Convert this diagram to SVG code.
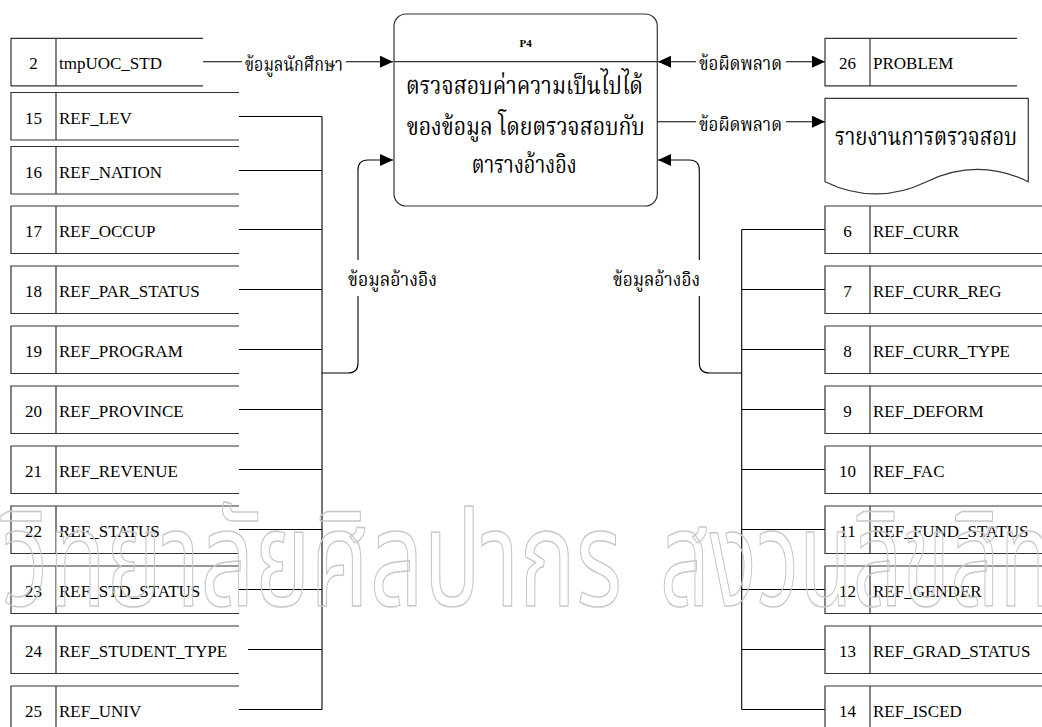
<svg xmlns="http://www.w3.org/2000/svg" width="1042" height="727" viewBox="0 0 1042 727">
<defs>
<marker id="ah" markerUnits="userSpaceOnUse" markerWidth="14" markerHeight="13" refX="13" refY="6" orient="auto-start-reverse">
<path d="M0,0 L13,6 L0,12 Z" fill="#000"/>
</marker>
</defs>
<style>
.ln{fill:none;stroke:#000;stroke-width:1.1}
.st{fill:none;stroke:#333;stroke-width:1.2}
.t{font-family:"Liberation Serif","Times New Roman",serif;font-size:17px;fill:#000}
.n{text-anchor:middle}
.th{font-family:"Noto Serif Thai","Noto Sans Thai","Liberation Serif",serif;fill:#000}
.lb{font-size:20px}
.bg{fill:#fff;stroke:none}
.wm{font-family:"Noto Sans Thai","Noto Serif Thai","Liberation Sans",sans-serif;font-size:135px;fill:none;stroke:#c8c8c8;stroke-width:1.5}
</style>
<rect width="1042" height="727" fill="#fff"/>

<g id="connectors">
<path class="ln" d="M203,61.7 H393" marker-end="url(#ah)"/>
<path class="ln" d="M658,61.7 H825" marker-start="url(#ah)" marker-end="url(#ah)"/>
<path class="ln" d="M657,121.7 H825" marker-end="url(#ah)"/>
<path class="ln" d="M322,116.5 V709.5"/>
<path class="ln" d="M239,116.5 H322 M239,170.5 H322 M239,229.5 H322 M239,289.5 H322 M239,349.5 H322 M239,409.5 H322 M239,469.5 H322 M239,529.5 H322 M239,589.5 H322 M248,649.5 H322 M239,709.5 H322"/>
<path class="ln" d="M322,373 H348 Q358,373 358,363 V170 Q358,160 368,160 H393" marker-end="url(#ah)"/>
<path class="ln" d="M741.7,229.5 V709.5"/>
<path class="ln" d="M741.7,229.5 H825 M741.7,289.5 H825 M741.7,349.5 H825 M741.7,409.5 H825 M741.7,469.5 H825 M741.7,529.5 H825 M741.7,589.5 H825 M741.7,649.5 H825 M741.7,709.5 H825"/>
<path class="ln" d="M741.7,373 H709.3 Q699.3,373 699.3,363 V170 Q699.3,160 689.3,160 H658" marker-end="url(#ah)"/>
<rect class="bg" x="242" y="50" width="104" height="24"/>
<text class="th lb" x="245" y="71" textLength="98" lengthAdjust="spacingAndGlyphs">ข้อมูลนักศึกษา</text>
<rect class="bg" x="696" y="50" width="90" height="24"/>
<text class="th lb" x="699" y="70" textLength="83" lengthAdjust="spacingAndGlyphs">ข้อผิดพลาด</text>
<rect class="bg" x="696" y="110" width="90" height="24"/>
<text class="th lb" x="699" y="131" textLength="83" lengthAdjust="spacingAndGlyphs">ข้อผิดพลาด</text>
<rect class="bg" x="346" y="260" width="94" height="36"/>
<text class="th lb" x="348" y="286" textLength="89" lengthAdjust="spacingAndGlyphs">ข้อมูลอ้างอิง</text>
<rect class="bg" x="610" y="260" width="92" height="36"/>
<text class="th lb" x="613" y="286" textLength="87" lengthAdjust="spacingAndGlyphs">ข้อมูลอ้างอิง</text>
</g>

<g id="P4">
<rect class="st" x="394" y="14" width="263.3" height="192" rx="12" ry="12"/>
<path class="st" d="M394,61.7 H657.3"/>
<text x="525.7" y="47" text-anchor="middle" style="font-family:'Liberation Serif',serif;font-size:11px;font-weight:bold">P4</text>
<text class="th" x="406" y="94" font-size="24" textLength="237" lengthAdjust="spacingAndGlyphs">ตรวจสอบค่าความเป็นไปได้</text>
<text class="th" x="406.7" y="134.5" font-size="24" textLength="238" lengthAdjust="spacingAndGlyphs">ของข้อมูล โดยตรวจสอบกับ</text>
<text class="th" x="471.7" y="173" font-size="24" textLength="105" lengthAdjust="spacingAndGlyphs">ตารางอ้างอิง</text>
</g>

<g id="report">
<path class="st" d="M825,98.3 H1028.3 V181.7 Q977.5,157.1 926.6,181.7 Q875.8,206.2 825,181.7 Z"/>
<text class="th" x="835" y="145" font-size="25" textLength="182" lengthAdjust="spacingAndGlyphs">รายงานการตรวจสอบ</text>
</g>

<g id="ds2" transform="translate(0,38.3)"><path class="st" d="M203,0 H11 V47.5 H203 M56,0 V47.5"/><text class="t n" x="33.5" y="31">2</text><text class="t" x="59" y="31">tmpUOC_STD</text></g>
<g id="ds26" transform="translate(825,38.3)"><path class="st" d="M192,0 H0 V47.5 H192 M45,0 V47.5"/><text class="t n" x="22.5" y="31">26</text><text class="t" x="48" y="31">PROBLEM</text></g>

<g id="ds15" transform="translate(0,92.5)"><path class="st" d="M239,0 H11 V47.5 H239 M56,0 V47.5"/><text class="t n" x="33.5" y="31">15</text><text class="t" x="59" y="31">REF_LEV</text></g>
<g id="ds16" transform="translate(0,146.5)"><path class="st" d="M239,0 H11 V47.5 H239 M56,0 V47.5"/><text class="t n" x="33.5" y="31">16</text><text class="t" x="59" y="31">REF_NATION</text></g>
<g id="ds17" transform="translate(0,206)"><path class="st" d="M239,0 H11 V47.5 H239 M56,0 V47.5"/><text class="t n" x="33.5" y="31">17</text><text class="t" x="59" y="31">REF_OCCUP</text></g>
<g id="ds18" transform="translate(0,266)"><path class="st" d="M239,0 H11 V47.5 H239 M56,0 V47.5"/><text class="t n" x="33.5" y="31">18</text><text class="t" x="59" y="31">REF_PAR_STATUS</text></g>
<g id="ds19" transform="translate(0,326)"><path class="st" d="M239,0 H11 V47.5 H239 M56,0 V47.5"/><text class="t n" x="33.5" y="31">19</text><text class="t" x="59" y="31">REF_PROGRAM</text></g>
<g id="ds20" transform="translate(0,386)"><path class="st" d="M239,0 H11 V47.5 H239 M56,0 V47.5"/><text class="t n" x="33.5" y="31">20</text><text class="t" x="59" y="31">REF_PROVINCE</text></g>
<g id="ds21" transform="translate(0,446)"><path class="st" d="M239,0 H11 V47.5 H239 M56,0 V47.5"/><text class="t n" x="33.5" y="31">21</text><text class="t" x="59" y="31">REF_REVENUE</text></g>
<g id="ds22" transform="translate(0,506)"><path class="st" d="M239,0 H11 V47.5 H239 M56,0 V47.5"/><text class="t n" x="33.5" y="31">22</text><text class="t" x="59" y="31">REF_STATUS</text></g>
<g id="ds23" transform="translate(0,566)"><path class="st" d="M239,0 H11 V47.5 H239 M56,0 V47.5"/><text class="t n" x="33.5" y="31">23</text><text class="t" x="59" y="31">REF_STD_STATUS</text></g>
<g id="ds24" transform="translate(0,626)"><path class="st" d="M239,0 H11 V47.5 H239 M56,0 V47.5"/><text class="t n" x="33.5" y="31">24</text><text class="t" x="59" y="31">REF_STUDENT_TYPE</text></g>
<g id="ds25" transform="translate(0,686)"><path class="st" d="M239,0 H11 V47.5 H239 M56,0 V47.5"/><text class="t n" x="33.5" y="31">25</text><text class="t" x="59" y="31">REF_UNIV</text></g>

<g id="ds6" transform="translate(825,206)"><path class="st" d="M217,0 H0 V47.5 H217 M45,0 V47.5"/><text class="t n" x="22.5" y="31">6</text><text class="t" x="48" y="31">REF_CURR</text></g>
<g id="ds7" transform="translate(825,266)"><path class="st" d="M217,0 H0 V47.5 H217 M45,0 V47.5"/><text class="t n" x="22.5" y="31">7</text><text class="t" x="48" y="31">REF_CURR_REG</text></g>
<g id="ds8" transform="translate(825,326)"><path class="st" d="M217,0 H0 V47.5 H217 M45,0 V47.5"/><text class="t n" x="22.5" y="31">8</text><text class="t" x="48" y="31">REF_CURR_TYPE</text></g>
<g id="ds9" transform="translate(825,386)"><path class="st" d="M217,0 H0 V47.5 H217 M45,0 V47.5"/><text class="t n" x="22.5" y="31">9</text><text class="t" x="48" y="31">REF_DEFORM</text></g>
<g id="ds10" transform="translate(825,446)"><path class="st" d="M217,0 H0 V47.5 H217 M45,0 V47.5"/><text class="t n" x="22.5" y="31">10</text><text class="t" x="48" y="31">REF_FAC</text></g>
<g id="ds11" transform="translate(825,506)"><path class="st" d="M217,0 H0 V47.5 H217 M45,0 V47.5"/><text class="t n" x="22.5" y="31">11</text><text class="t" x="48" y="31">REF_FUND_STATUS</text></g>
<g id="ds12" transform="translate(825,566)"><path class="st" d="M217,0 H0 V47.5 H217 M45,0 V47.5"/><text class="t n" x="22.5" y="31">12</text><text class="t" x="48" y="31">REF_GENDER</text></g>
<g id="ds13" transform="translate(825,626)"><path class="st" d="M217,0 H0 V47.5 H217 M45,0 V47.5"/><text class="t n" x="22.5" y="31">13</text><text class="t" x="48" y="31">REF_GRAD_STATUS</text></g>
<g id="ds14" transform="translate(825,686)"><path class="st" d="M217,0 H0 V47.5 H217 M45,0 V47.5"/><text class="t n" x="22.5" y="31">14</text><text class="t" x="48" y="31">REF_ISCED</text></g>

<g id="watermark">
<text class="wm" x="2" y="606" textLength="620" lengthAdjust="spacingAndGlyphs">วิทยาลัยศิลปากร</text>
<text class="wm" x="660" y="606" textLength="440" lengthAdjust="spacingAndGlyphs">สงวนลิขสิทธิ์</text>
</g>
</svg>
